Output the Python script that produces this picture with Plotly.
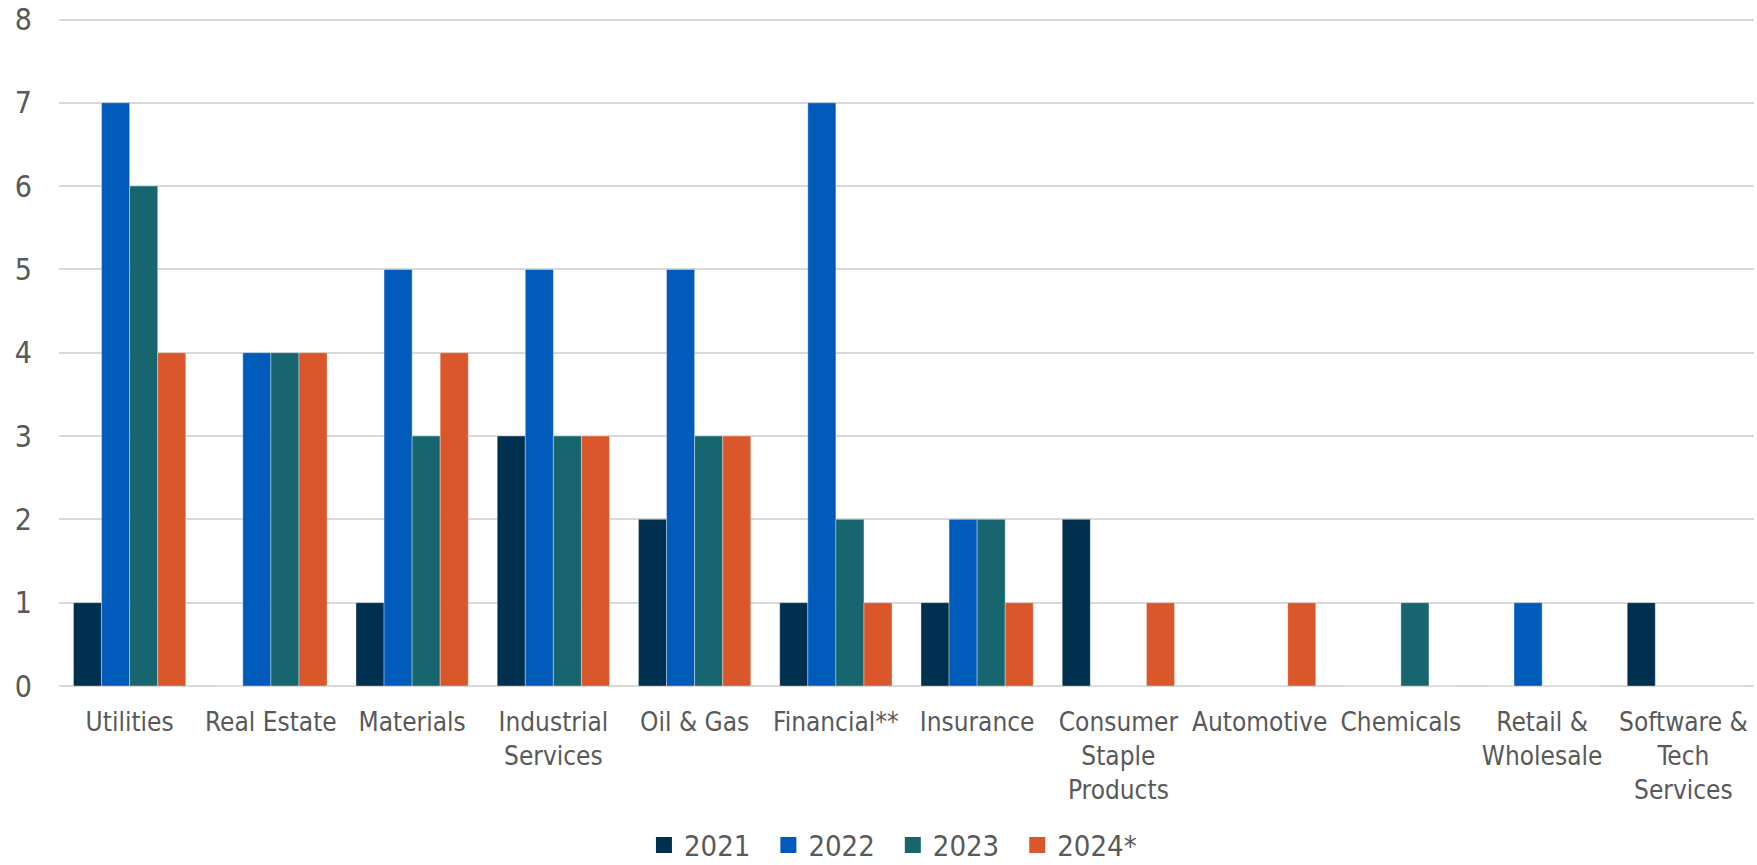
import plotly.graph_objects as go

# Sector labels along the x axis
sectors = [
    "Utilities", "Real Estate", "Materials", "Industrial<br>Services",
    "Oil & Gas", "Financial**", "Insurance", "Consumer<br>Staple<br>Products",
    "Automotive", "Chemicals", "Retail &<br>Wholesale", "Software &<br>Tech<br>Services",
]

# Counts per sector for each year
y2021 = [1, 0, 1, 3, 2, 1, 1, 2, 0, 0, 0, 1]
y2022 = [7, 4, 5, 5, 5, 7, 2, 0, 0, 0, 1, 0]
y2023 = [6, 4, 3, 3, 3, 2, 2, 0, 0, 1, 0, 0]
y2024 = [4, 4, 4, 3, 3, 1, 1, 1, 1, 0, 0, 0]

series = [
    ("2021", y2021, "#00304F"),
    ("2022", y2022, "#005BBB"),
    ("2023", y2023, "#17666F"),
    ("2024*", y2024, "#D9572A"),
]

FONT = "DejaVu Sans Condensed, Tahoma, DejaVu Sans, sans-serif"
TEXT = "#595959"
PAD = "\u2002"  # extra spacing after legend labels

fig = go.Figure()
for name, vals, color in series:
    fig.add_trace(go.Bar(
        name=name, x=sectors, y=vals, showlegend=False,
        marker=dict(color=color, line=dict(color="rgba(255,255,255,0.35)", width=1)),
    ))

# Legend entries with larger square swatches
for i, (name, vals, color) in enumerate(series):
    label = name if i == len(series) - 1 else name + PAD
    fig.add_trace(go.Scatter(
        name=label, x=[None], y=[None], mode="markers",
        marker=dict(symbol="square", size=16, color=color),
        showlegend=True, hoverinfo="skip",
    ))

fig.update_layout(
    width=1757, height=865,
    barmode="group", bargap=0.205, bargroupgap=0,
    plot_bgcolor="white", paper_bgcolor="white",
    margin=dict(l=59, r=3, t=16.5, b=179, autoexpand=False),
    font=dict(family=FONT, color=TEXT, size=28),
    showlegend=True,
    legend=dict(
        orientation="h", x=0.492, xanchor="center", y=-0.238, yanchor="middle",
        font=dict(size=29, color=TEXT), itemclick=False,
        traceorder="normal",
    ),
    xaxis=dict(
        tickangle=0, automargin=False, showgrid=False, showline=False,
        tickfont=dict(size=26, color=TEXT), ticklabelstandoff=18,
    ),
    yaxis=dict(
        range=[0, 8.03], tickvals=[0, 1, 2, 3, 4, 5, 6, 7, 8], automargin=False,
        showgrid=True, gridcolor="#D9D9D9", gridwidth=2,
        zeroline=True, zerolinecolor="#D9D9D9", zerolinewidth=2,
        tickfont=dict(size=30, color=TEXT), ticklabelstandoff=26,
    ),
)

fig.write_html("out.html")
